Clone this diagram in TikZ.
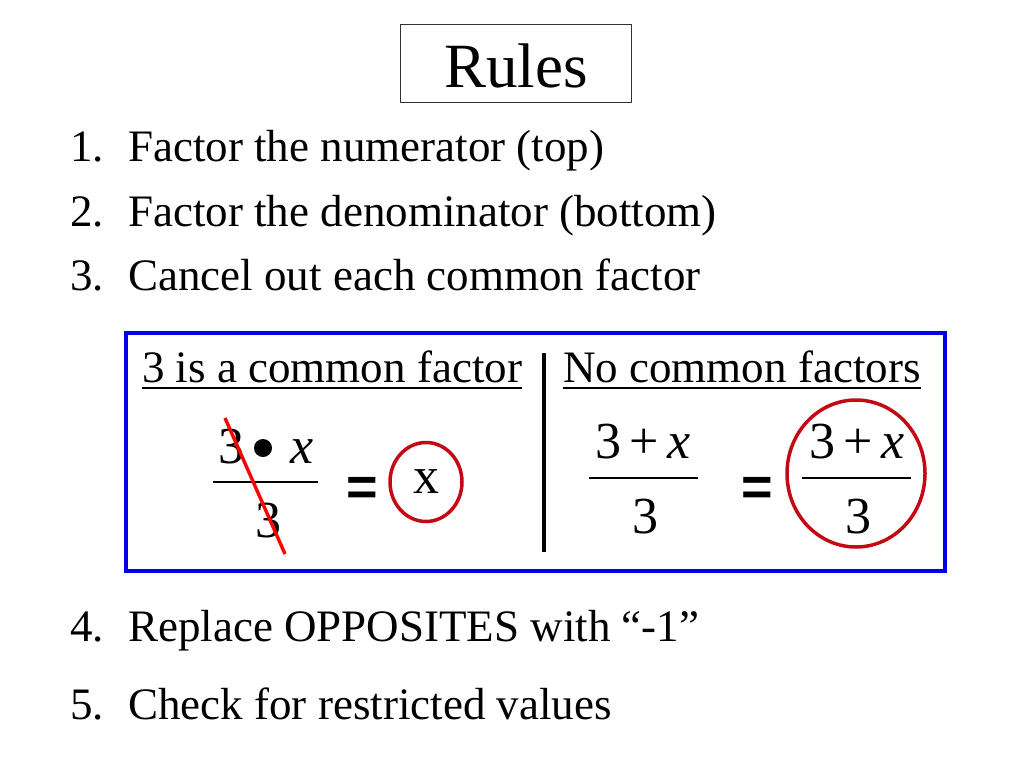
\documentclass[tikz,border=0pt]{standalone}
\usepackage{fontspec}
\setmainfont{Liberation Serif}
\newfontfamily\eqfont{Liberation Sans}
\usepackage{tikz}
\usetikzlibrary{shapes.geometric}
\definecolor{boxblue}{RGB}{0,0,225}
\definecolor{ringred}{RGB}{195,10,20}
\tikzset{
  rulenum/.style={anchor=base west, inner sep=0pt, font=\fontsize{45}{54}\selectfont},
  mathtxt/.style={anchor=base, inner sep=0pt, font=\fontsize{52}{60}\selectfont},
  eqsign/.style={inner sep=0pt, font=\eqfont\bfseries\fontsize{54}{60}\selectfont},
  fracbar/.style={line width=1.6pt},
  ring/.style={draw=ringred, line width=3.5pt}
}

\begin{document}
\begin{tikzpicture}[x=1pt, y=-1pt]
\useasboundingbox (0,0) rectangle (1024,768);
% title
\draw [line width=1pt, black!80] (400,25) rectangle (631,102);
\node [anchor=base, inner sep=0pt, font=\fontsize{63}{70}\selectfont] (title) at (516,87) {Rules};
% the steps
\node [rulenum] (n1) at (70,161) {1.};
\node [rulenum] (r1) at (128,161) {Factor the numerator (top)};
\node [rulenum] (n2) at (70,226) {2.};
\node [rulenum] (r2) at (128,226) {Factor the denominator (bottom)};
\node [rulenum] (n3) at (70,290) {3.};
\node [rulenum] (r3) at (128,290) {Cancel out each common factor};
\node [rulenum] (n4) at (70,641) {4.};
\node [rulenum] (r4) at (128,641) {Replace OPPOSITES with “-1”};
\node [rulenum] (n5) at (70,719) {5.};
\node [rulenum] (r5) at (128,719) {Check for restricted values};
% example box
\draw [line width=3.2pt, boxblue] (126,333) rectangle (945,571);
\node [rulenum] (hl) at (142,382) {3 is a common factor};
\draw [line width=2pt] ([yshift=-6pt]hl.base west) -- ([yshift=-6pt]hl.base east);
\node [rulenum] (hr) at (563,382) {No common factors};
\draw [line width=2pt] ([yshift=-6pt]hr.base west) -- ([yshift=-6pt]hr.base east);
\draw [line width=4.5pt] (544,353) -- (544,552);
% left: common factor
\node [mathtxt] (ltop) at (231,463) {3};
\node [circle, fill, inner sep=0pt, minimum size=18pt] (dot) at (263,448) {};
\node [mathtxt] (lx) at (302,463) {\itshape x};
\draw [fracbar] (213,482) -- (318,482);
\node [mathtxt] (lbot) at (268,537) {3};
\draw [line width=3.4pt, red] (225,418) -- (285,554);
\node [eqsign] (eq1) at (362,491) {=};
\node [ring, ellipse, minimum width=72pt, minimum height=79pt, inner sep=0pt,
       font=\fontsize{52}{60}\selectfont] (xres) at (426,482) {x};
% right: no common factor
\node [mathtxt] (rtop) at (643,458) {3\,+\,\itshape x};
\draw [fracbar] (589,478) -- (698,478);
\node [mathtxt] (rbot) at (645,533) {3};
\node [eqsign] (eq2) at (757,491) {=};
\node [mathtxt] (stop) at (857,458) {3\,+\,\itshape x};
\draw [fracbar] (802,478) -- (911,478);
\node [mathtxt] (sbot) at (858,533) {3};
\draw [ring] (856,473.5) ellipse [x radius=69pt, y radius=73.5pt];
\end{tikzpicture}
\end{document}
